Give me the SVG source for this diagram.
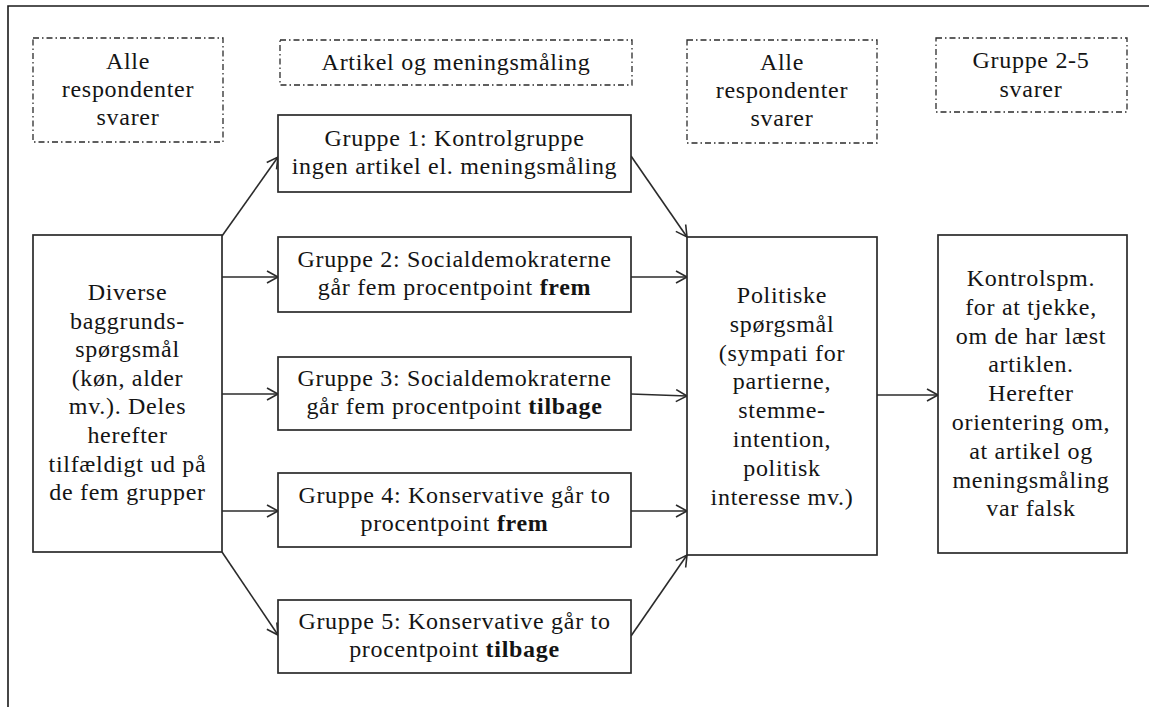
<svg xmlns="http://www.w3.org/2000/svg" width="1149" height="707" viewBox="0 0 1149 707">
<style>
.t{font-family:"Liberation Serif","Times New Roman",serif;font-size:24px;fill:#141414;text-anchor:middle;letter-spacing:0.7px}
.b{font-weight:bold}
.box{fill:#fff;stroke:#2b2b2b;stroke-width:1.7}
.dash{fill:none;stroke:#2b2b2b;stroke-width:1.3;stroke-dasharray:6 3 1.5 3}
.c{fill:none;stroke:#2b2b2b;stroke-width:1.6;marker-end:url(#arr)}
</style>
<defs>
<marker id="arr" markerUnits="userSpaceOnUse" markerWidth="16" markerHeight="16" refX="13" refY="7" orient="auto">
<path d="M2,1 L13,7 L2,13" fill="none" stroke="#2b2b2b" stroke-width="1.6"/>
</marker>
</defs>
<rect width="1149" height="707" fill="#fff"/>
<path d="M8,707 V6 H1149" fill="none" stroke="#1a1a1a" stroke-width="1.6"/>

<g id="hdr1"><rect class="dash" x="33" y="38" width="190" height="104"/>
<text class="t" x="128" y="69">Alle</text><text class="t" x="128" y="97">respondenter</text><text class="t" x="128" y="125">svarer</text></g>
<g id="hdr2"><rect class="dash" x="280" y="40" width="352" height="45"/>
<text class="t" x="456" y="70">Artikel og meningsmåling</text></g>
<g id="hdr3"><rect class="dash" x="687" y="40" width="190" height="103"/>
<text class="t" x="782" y="70">Alle</text><text class="t" x="782" y="98">respondenter</text><text class="t" x="782" y="126">svarer</text></g>
<g id="hdr4"><rect class="dash" x="936" y="38" width="191" height="74"/>
<text class="t" x="1031" y="68">Gruppe 2-5</text><text class="t" x="1031" y="97">svarer</text></g>

<g id="connectors">
<line class="c" x1="222" y1="236" x2="278" y2="157"/>
<line class="c" x1="222" y1="277" x2="278" y2="277"/>
<line class="c" x1="222" y1="394" x2="278" y2="394"/>
<line class="c" x1="222" y1="511" x2="278" y2="511"/>
<line class="c" x1="222" y1="552" x2="278" y2="635"/>
<line class="c" x1="631" y1="156" x2="687" y2="237"/>
<line class="c" x1="631" y1="277" x2="687" y2="277"/>
<line class="c" x1="631" y1="394" x2="687" y2="396"/>
<line class="c" x1="631" y1="511" x2="687" y2="511"/>
<line class="c" x1="631" y1="636" x2="687" y2="555"/>
<line class="c" x1="877" y1="395" x2="938" y2="395"/>
</g>

<g id="start"><rect class="box" x="33" y="235" width="189" height="317"/>
<text class="t" x="127.5" y="300">Diverse</text>
<text class="t" x="127.5" y="328.6">baggrunds-</text>
<text class="t" x="127.5" y="357.2">spørgsmål</text>
<text class="t" x="127.5" y="385.8">(køn, alder</text>
<text class="t" x="127.5" y="414.4">mv.). Deles</text>
<text class="t" x="127.5" y="443">herefter</text>
<text class="t" x="127.5" y="471.6">tilfældigt ud på</text>
<text class="t" x="127.5" y="500.2">de fem grupper</text></g>

<g id="g1"><rect class="box" x="278" y="115" width="353" height="77"/>
<text class="t" x="454.5" y="146">Gruppe 1: Kontrolgruppe</text>
<text class="t" x="454.5" y="174">ingen artikel el. meningsmåling</text></g>
<g id="g2"><rect class="box" x="278" y="237" width="353" height="75"/>
<text class="t" x="454.5" y="267">Gruppe 2: Socialdemokraterne</text>
<text class="t" x="454.5" y="295">går fem procentpoint <tspan class="b">frem</tspan></text></g>
<g id="g3"><rect class="box" x="278" y="357" width="353" height="73"/>
<text class="t" x="454.5" y="386">Gruppe 3: Socialdemokraterne</text>
<text class="t" x="454.5" y="414">går fem procentpoint <tspan class="b">tilbage</tspan></text></g>
<g id="g4"><rect class="box" x="278" y="473" width="353" height="74"/>
<text class="t" x="454.5" y="502.5">Gruppe 4: Konservative går to</text>
<text class="t" x="454.5" y="530.5">procentpoint <tspan class="b">frem</tspan></text></g>
<g id="g5"><rect class="box" x="278" y="600" width="353" height="73"/>
<text class="t" x="454.5" y="629">Gruppe 5: Konservative går to</text>
<text class="t" x="454.5" y="657">procentpoint <tspan class="b">tilbage</tspan></text></g>

<g id="pol"><rect class="box" x="687" y="237" width="190" height="318"/>
<text class="t" x="782" y="302.7">Politiske</text>
<text class="t" x="782" y="331.6">spørgsmål</text>
<text class="t" x="782" y="360.5">(sympati for</text>
<text class="t" x="782" y="389.4">partierne,</text>
<text class="t" x="782" y="418.3">stemme-</text>
<text class="t" x="782" y="447.2">intention,</text>
<text class="t" x="782" y="476.1">politisk</text>
<text class="t" x="782" y="505">interesse mv.)</text></g>

<g id="ctrl"><rect class="box" x="938" y="235" width="189" height="318"/>
<text class="t" x="1031" y="286">Kontrolspm.</text>
<text class="t" x="1031" y="314.8">for at tjekke,</text>
<text class="t" x="1031" y="343.6">om de har læst</text>
<text class="t" x="1031" y="372.4">artiklen.</text>
<text class="t" x="1031" y="401.2">Herefter</text>
<text class="t" x="1031" y="430">orientering om,</text>
<text class="t" x="1031" y="458.8">at artikel og</text>
<text class="t" x="1031" y="487.6">meningsmåling</text>
<text class="t" x="1031" y="516.4">var falsk</text></g>
</svg>
